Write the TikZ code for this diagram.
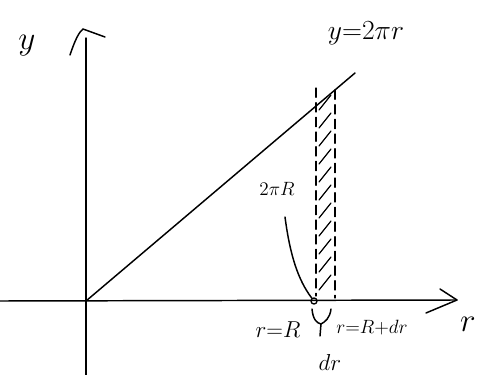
\documentclass[tikz,border=0pt]{standalone}
\usepackage{amsmath}
\usepackage{xcolor}
\usepackage{tikz}
\usetikzlibrary{arrows.meta, positioning, calc}

\tikzset{
  hand/.style={line width=1.1pt, line cap=round, line join=round},
  lbl/.style={inner sep=0pt, font=\fontsize{20}{22}\selectfont},
  hatch/.style={line width=0.9pt, dash pattern=on 7pt off 4pt, line cap=round}
}

\begin{document}
\begin{tikzpicture}[x=0.75pt, y=-0.75pt]
      \useasboundingbox (0,0) rectangle (483,375);
      % axes
      \coordinate (O) at (86,301);
      \coordinate (ytop) at (86,38);
      \coordinate (ybot) at (86,375);
      \coordinate (rleft) at (0,301);
      \coordinate (rtip) at (457,300);
      \coordinate (lineend) at (355,73);
      \draw[hand] (ybot) -- (ytop);
      \draw[hand] (rleft) -- (rtip);
      \draw[hand] (70,55) .. controls (75,40) and (79,32) .. (83,29) -- (105,37);
      \draw[hand] (440,289) -- (rtip) -- (426,313);
      % y = 2 pi r
      \draw[hand] (O) -- (lineend);
      % strip
      \node[circle, draw, line width=1pt, inner sep=1.6pt] (dot) at (314,301) {};
      \draw[hatch] (316,88) -- (316,296);
      \draw[hatch] (335,90) -- (335,298);
      \foreach \y in {95,113,...,280} {
        \draw[hand, line width=0.9pt] (319,\y+15) -- (331,\y);
      }
      % labels
      \node[lbl, font=\fontsize{30}{32}\selectfont] (ylab) at (27,46) {$y$};
      \node[lbl, font=\fontsize{22}{24}\selectfont] (fn) at (366,33) {$y{=}2\pi r$};
      \node[lbl, font=\fontsize{28}{30}\selectfont] (rlab) at (468,324) {$r$};
      \node[lbl, font=\fontsize{14}{16}\selectfont] (len) at (277,189) {$2\pi R$};
      \node[lbl, font=\fontsize{17}{19}\selectfont] (rR) at (278,330) {$r{=}R$};
      \node[lbl, font=\fontsize{15}{17}\selectfont] (rRdr) at (372,328) {$r{=}R{+}dr$};
      \node[lbl, font=\fontsize{17}{19}\selectfont] (dr) at (330,362) {$dr$};
      % marks
      \draw[hand] (285,217) .. controls (290,255) and (298,280) .. (dot);
      \coordinate (brace) at (321,324);
      \draw[hand] (312,309) .. controls (313,320) and (317,323) .. (brace);
      \draw[hand] (331,309) .. controls (330,318) and (325,322) .. (brace) -- (320,336);
\end{tikzpicture}
\end{document}
